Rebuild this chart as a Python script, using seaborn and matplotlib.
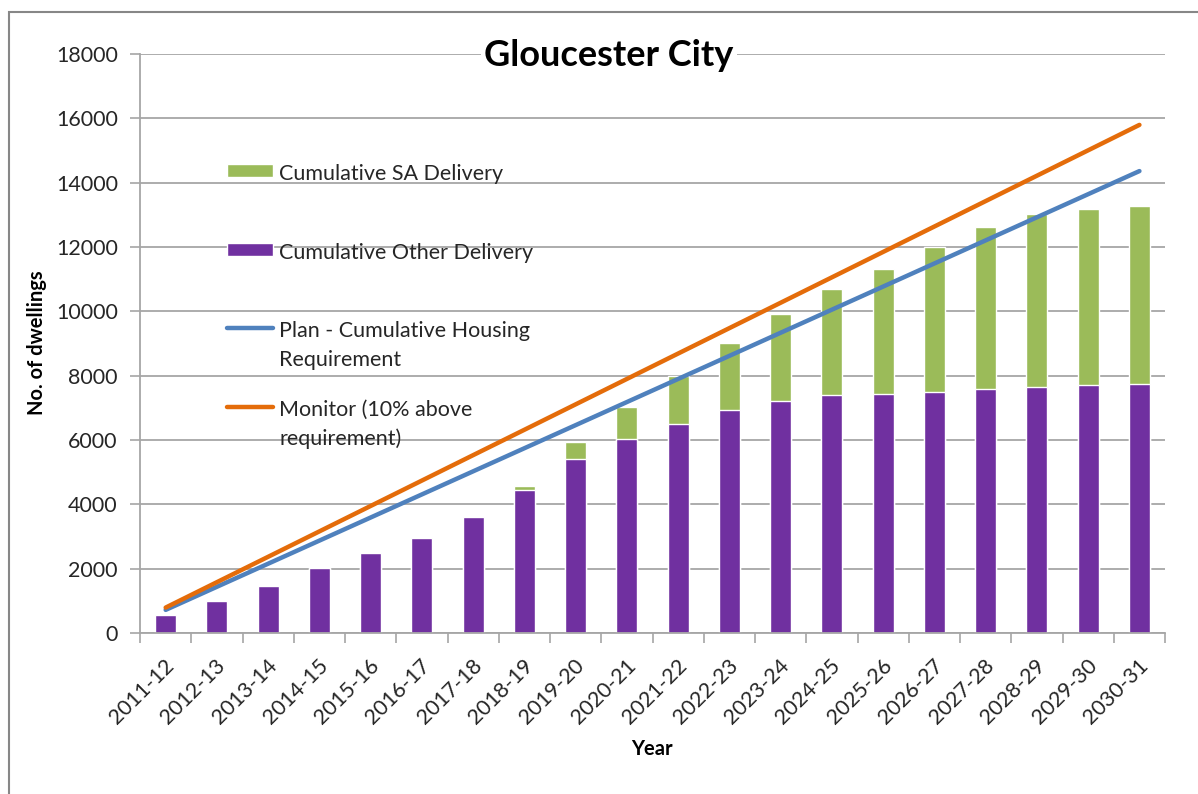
import numpy as np
import pandas as pd
import seaborn as sns
import matplotlib.pyplot as plt
from matplotlib.offsetbox import HPacker
from matplotlib.patches import Rectangle
from matplotlib.transforms import ScaledTranslation

# Values
years = ["2011-12", "2012-13", "2013-14", "2014-15", "2015-16", "2016-17", "2017-18",
         "2018-19", "2019-20", "2020-21", "2021-22", "2022-23", "2023-24", "2024-25",
         "2025-26", "2026-27", "2027-28", "2028-29", "2029-30", "2030-31"]
other_delivery = [570, 1005, 1460, 2020, 2490, 2950, 3600, 4460, 5400, 6040,
                  6500, 6930, 7210, 7390, 7430, 7500, 7580, 7640, 7710, 7750]
sa_delivery = [0, 0, 0, 0, 0, 0, 0, 120, 530, 990,
               1480, 2100, 2700, 3300, 3900, 4490, 5030, 5370, 5460, 5530]
plan_requirement = [718, 1436, 2154, 2872, 3590, 4308, 5026, 5744, 6462, 7180,
                    7898, 8616, 9334, 10052, 10770, 11488, 12206, 12924, 13642, 14360]
monitor_level = [790, 1580, 2369, 3159, 3949, 4739, 5529, 6318, 7108, 7898,
                 8688, 9478, 10267, 11057, 11847, 12637, 13427, 14216, 15006, 15796]

df = pd.DataFrame({"Year": years, "Other": other_delivery, "SA": sa_delivery,
                   "Plan": plan_requirement, "Monitor": monitor_level})
df["Total"] = df["Other"] + df["SA"]
df["pos"] = np.arange(len(df))

sns.set_theme(style="white")
plt.rcParams["font.family"] = ["Lato", "DejaVu Sans"]

grey = "#a6a6a6"
txt = "#262626"

fig = plt.figure(figsize=(11.98, 7.94), dpi=100)
ax = fig.add_axes([0.1169, 0.2028, 0.8556, 0.7292])

# stacked bars: total (green) with other (purple) drawn over it
sns.barplot(data=df, x="Year", y="Total", color="#9BBB59", width=0.41, saturation=1,
            label="sa", ax=ax, zorder=2)
sns.barplot(data=df, x="Year", y="Other", color="#7030A0", width=0.41, saturation=1,
            label="other", ax=ax, zorder=2)
sns.lineplot(data=df, x="pos", y="Plan", color="#4F81BD", lw=3.2,
             label="plan", ax=ax, zorder=3, solid_capstyle="round")
sns.lineplot(data=df, x="pos", y="Monitor", color="#E46C0A", lw=3.2,
             label="monitor", ax=ax, zorder=3, solid_capstyle="round")

ax.set_xlim(-0.5, len(years) - 0.5)
ax.set_ylim(0, 18000)
ax.set_yticks(range(0, 18001, 2000))
ax.set_axisbelow(True)
ax.yaxis.grid(True, color=grey, lw=1.3)
ax.xaxis.grid(False)
for s in ["top", "right"]:
    ax.spines[s].set_visible(False)
for s in ["left", "bottom"]:
    ax.spines[s].set_color(grey)
    ax.spines[s].set_linewidth(1.3)

# x ticks: marks between categories, labels at centres
ax.set_xticks(np.arange(len(years)))
ax.set_xticklabels(years)
ax.set_xticks(np.arange(-0.5, len(years), 1), minor=True)
ax.tick_params(axis="x", which="minor", bottom=True, length=7, width=1.2, color=grey)
ax.tick_params(axis="x", which="major", bottom=True, length=0, pad=21,
               labelsize=15.5, labelcolor=txt)
ax.tick_params(axis="y", left=True, length=7, width=1.2, color=grey, pad=9,
               labelsize=15.5, labelcolor=txt)
shift = ScaledTranslation(4 / 72, 0, fig.dpi_scale_trans)
for lbl in ax.get_xticklabels():
    lbl.set_rotation(45)
    lbl.set_ha("right")
    lbl.set_va("center")
    lbl.set_rotation_mode("anchor")
    lbl.set_transform(lbl.get_transform() + shift)

ax.set_xlabel("Year", fontsize=14.5, fontweight="bold", color="black")
ax.set_ylabel("No. of dwellings", fontsize=14.5, fontweight="bold", color="black")
ax.xaxis.set_label_coords(0.4995, -0.2003)
ax.xaxis.label.set_va("center")
ax.yaxis.set_label_coords(-0.1005, 0.5009)
ax.yaxis.label.set_va("center")

h, l = ax.get_legend_handles_labels()
by_label = dict(zip(l, h))
handles = [by_label["sa"], by_label["other"], by_label["plan"], by_label["monitor"]]
labels = ["Cumulative SA Delivery\n", "Cumulative Other Delivery\n",
          "Plan - Cumulative Housing\nRequirement", "Monitor (10% above\nrequirement)"]
leg = ax.legend(handles, labels, loc="upper left", bbox_to_anchor=(0.0849, 0.8100),
                frameon=False, fontsize=15.5, handlelength=2.15, handleheight=0.58,
                handletextpad=0.28, labelspacing=1.39, borderpad=0, borderaxespad=0)
for t in leg.get_texts():
    t.set_linespacing(1.54)
    t.set_color(txt)
for hp in leg.findobj(HPacker):
    hp.align = "top"

fig.text(609 / 1198, 1 - 66 / 794, "Gloucester City", ha="center", va="baseline",
         fontsize=26, fontweight="bold", color="black",
         bbox=dict(facecolor="white", edgecolor="none", pad=2))

# chart area border
fig.patches.append(Rectangle((9 / 1198, -0.1), 1.2, 1.1 - 12 / 794, transform=fig.transFigure,
                             fill=False, edgecolor="#878787", lw=1.5))

fig.savefig("out.png", dpi=100)
